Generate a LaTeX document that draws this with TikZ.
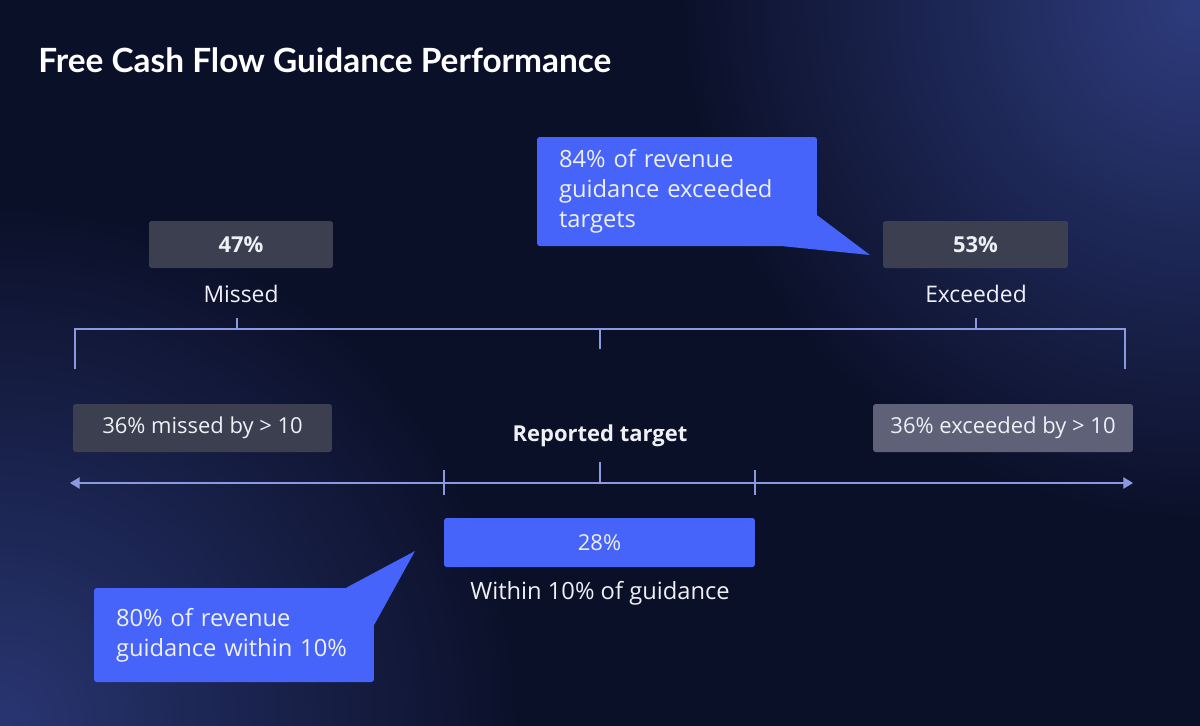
\documentclass[tikz,border=0pt]{standalone}
\usepackage{fontspec}
\setmainfont{Open Sans}
\newfontfamily\titlefont{Lato}
\usetikzlibrary{calc,arrows.meta}

\definecolor{bgBase}{HTML}{0B1029}
\definecolor{bgGlow}{HTML}{2E3C7E}
\definecolor{calloutBlue}{HTML}{4663FA}
\definecolor{boxGray}{HTML}{3C3F50}
\definecolor{boxLight}{HTML}{5E6177}
\definecolor{lineBlue}{HTML}{8C98E0}
\definecolor{txtWhite}{HTML}{EEF0F6}

\begin{document}
\begin{tikzpicture}
[x=0.02cm,y=-0.02cm,
  boxDecorate/.style={shape=rectangle,rounded corners=1.5pt,inner sep=0pt,text=txtWhite},%
  calloutDecorate/.style={shape=rectangle,rounded corners=1.5pt,fill=calloutBlue,text=txtWhite,
    minimum width=5.6cm,text width=5.6cm-0.88cm,inner xsep=0.44cm,inner ysep=0pt,align=left,
    font=\fontsize{13.5}{17}\selectfont},%
  labelDecorate/.style={text=txtWhite,inner sep=0pt,font=\fontsize{13}{15}\selectfont},%
  lineDecorate/.style={draw=lineBlue,line width=0.7pt}]
\useasboundingbox (0,0) rectangle (1200,725);
%% background
\fill[bgBase] (-5,-5) rectangle (1205,730);
\begin{scope}
  \clip (-5,-5) rectangle (1205,730);
  \shade[inner color=bgGlow,outer color=bgBase] (1200,0) circle (520);
  \shade[inner color=bgGlow!85!bgBase,outer color=bgBase] (0,725) circle (520);
\end{scope}

%% title
\node[anchor=base west,inner sep=0pt,text=white,font=\fontsize{19}{22}\titlefont\bfseries]
  (title) at (38,72) {Free Cash Flow Guidance Performance};

%% boxes
\foreach \nodename/\x/\y/\w/\h/\col/\txt in {missBox/241/244.5/3.68/0.94/boxGray/{\bfseries 47\%},
    exceedBox/975.5/244.5/3.70/0.94/boxGray/{\bfseries 53\%},
    missMore/202.5/428/5.18/0.96/boxGray/{36\% missed by > 10},
    exceedMore/1003/428/5.20/0.96/boxLight/{36\% exceeded by > 10},
    withinBox/599.5/542.5/6.22/0.98/calloutBlue/{28\%}} {
  \node (\nodename) at (\x,\y) [boxDecorate,fill=\col,minimum width=\w cm,minimum height=\h cm,
    font=\fontsize{12.5}{15}\selectfont] {\txt};
}

%% labels
\node[labelDecorate] (missLabel) at (241,294) {Missed};
\node[labelDecorate] (exceedLabel) at (976,294) {Exceeded};
\node[labelDecorate,font=\fontsize{12.5}{15}\selectfont\bfseries] (target) at (600,436) {Reported target};
\node[labelDecorate,font=\fontsize{13.5}{16}\selectfont] (withinLabel) at (600,593) {Within 10\% of guidance};

%% bracket
\coordinate (brL) at (75,369);
\coordinate (brR) at (1125,369);
\coordinate (brLtop) at (75,329);
\coordinate (brRtop) at (1125,329);
\draw[lineDecorate] (brL) -- (brLtop) -- (brRtop) -- (brR);
\draw[lineDecorate] (237,318) -- (237,329);
\draw[lineDecorate] (976,318) -- (976,329);
\draw[lineDecorate] (600,329) -- (600,349);

%% axis
\coordinate (axL) at (70,483);
\coordinate (axR) at (1133,483);
\draw[lineDecorate,{Triangle[length=5.5pt,width=6.5pt]}-{Triangle[length=5.5pt,width=6.5pt]}] (axL) -- (axR);
\draw[lineDecorate] (444,470) -- (444,495);
\draw[lineDecorate] (755,470) -- (755,495);
\draw[lineDecorate] (600,462) -- (600,483);

%% callouts
\node[calloutDecorate,minimum height=2.18cm] (calloutTop) at (677,191.5)
  {84\% of revenue\\guidance exceeded\\targets};
\coordinate (tipTop) at (870,255);
\fill[calloutBlue] ($(calloutTop.south east)+(-33,0)$) -- (tipTop) -- ($(calloutTop.south east)+(0,-31)$) -- cycle;

\node[calloutDecorate,minimum height=1.88cm] (calloutBottom) at (234,635)
  {80\% of revenue\\guidance within 10\%};
\coordinate (tipBottom) at (415,551);
\fill[calloutBlue] ($(calloutBottom.north east)+(-28,0)$) -- (tipBottom) -- ($(calloutBottom.north east)+(0,37)$) -- cycle;
\end{tikzpicture}
\end{document}
